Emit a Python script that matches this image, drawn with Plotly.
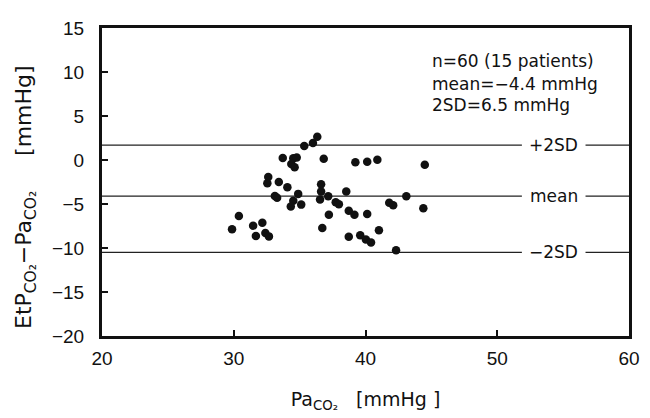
import plotly.graph_objects as go

# Data
paco2 = [29.87, 30.39, 31.47, 32.17, 31.68, 32.40, 32.67, 32.62, 32.55, 33.42,
         33.12, 33.29, 33.72, 34.52, 34.78, 34.37, 34.62, 35.35, 36.01, 36.34,
         36.83, 34.07, 34.89, 34.52, 34.33, 35.12, 36.63, 36.63, 36.55, 37.17,
         37.74, 37.98, 37.22, 36.72, 39.23, 40.13, 40.90, 44.50, 38.54, 38.73,
         39.16, 40.13, 41.80, 42.10, 43.10, 44.39, 38.73, 39.60, 40.03, 40.42,
         41.02, 42.32]
diff = [-7.87, -6.36, -7.46, -7.13, -8.64, -8.29, -8.68, -1.92, -2.65, -2.50,
        -4.08, -4.30, 0.22, 0.20, 0.29, -0.46, -0.82, 1.58, 1.94, 2.65,
        0.14, -3.09, -3.85, -4.63, -5.28, -5.07, -2.75, -3.57, -4.49, -4.12,
        -4.80, -5.04, -6.22, -7.72, -0.26, -0.19, 0.03, -0.55, -3.57, -5.78,
        -6.22, -6.14, -4.85, -5.13, -4.12, -5.48, -8.71, -8.55, -9.04, -9.37,
        -7.98, -10.25]

ref_names = ["+2SD", "mean", "\u22122SD"]
ref_levels = [1.7, -4.1, -10.5]

stats_lines = ["n=60 (15 patients)", "mean=\u22124.4 mmHg", "2SD=6.5 mmHg"]
stats_y = [11.3, 8.6, 6.2]

x_ticks = [20, 30, 40, 50, 60]
y_ticks = [15, 10, 5, 0, -5, -10, -15, -20]

TICKFONT = "Liberation Sans, Arial, sans-serif"
TEXTFONT = "DejaVu Sans, sans-serif"
INK = "#111111"

fig = go.Figure()

# reference lines with a gap for the label
gap_lo, gap_hi = 51.87, 56.7
for name, lvl in zip(ref_names, ref_levels):
    fig.add_trace(go.Scatter(
        x=[x_ticks[0], gap_lo, None, gap_hi, x_ticks[-1]],
        y=[lvl, lvl, None, lvl, lvl],
        mode="lines", line=dict(color="#222222", width=1.3),
        hoverinfo="skip", showlegend=False))
    fig.add_annotation(x=(gap_lo + gap_hi) / 2, y=lvl, text=name,
                       showarrow=False, xanchor="center", yanchor="middle",
                       font=dict(family=TEXTFONT, size=17, color=INK))

fig.add_trace(go.Scatter(
    x=paco2, y=diff, mode="markers",
    marker=dict(color=INK, size=8.5, line=dict(width=0)),
    showlegend=False))

for t, yv in zip(stats_lines, stats_y):
    fig.add_annotation(x=44.9, y=yv, text=t, showarrow=False,
                       xanchor="left", yanchor="middle",
                       font=dict(family=TEXTFONT, size=17, color=INK))

# y-axis title as rotated annotation (placed like the reference)
fig.add_annotation(xref="paper", yref="paper", x=-0.145, y=0.45,
                   text="EtP<sub>CO\u2082</sub>\u2212Pa<sub>CO\u2082</sub>     [mmHg]",
                   textangle=-90, showarrow=False,
                   xanchor="center", yanchor="middle",
                   font=dict(family=TEXTFONT, size=22, color=INK))

# page has an 8px body margin: compensate so the plot lands where the reference has it
fig.update_layout(
    width=642, height=410,
    margin=dict(l=94, r=14, t=10, b=82),
    paper_bgcolor="white", plot_bgcolor="white",
    font=dict(family=TICKFONT, size=19, color=INK),
    xaxis=dict(range=[20, 60], tickvals=x_ticks, ticks="inside", ticklen=6,
               tickwidth=2, tickcolor=INK, showgrid=False, zeroline=False,
               showline=True, linewidth=3, linecolor=INK, mirror=True,
               tickfont=dict(family=TICKFONT, size=19), ticklabelstandoff=3,
               title=dict(text="Pa<sub>CO\u2082</sub>   [mmHg ]",
                          font=dict(family=TEXTFONT, size=19), standoff=25)),
    yaxis=dict(range=[-20, 15], tickvals=y_ticks,
               ticktext=[str(v).replace("-", "\u2212") for v in y_ticks],
               ticks="inside", ticklen=6,
               tickwidth=2, tickcolor=INK, showgrid=False, zeroline=False,
               showline=True, linewidth=3, linecolor=INK, mirror=True,
               tickfont=dict(family=TICKFONT, size=19), ticklabelstandoff=11),
)

fig.write_html("out.html")
